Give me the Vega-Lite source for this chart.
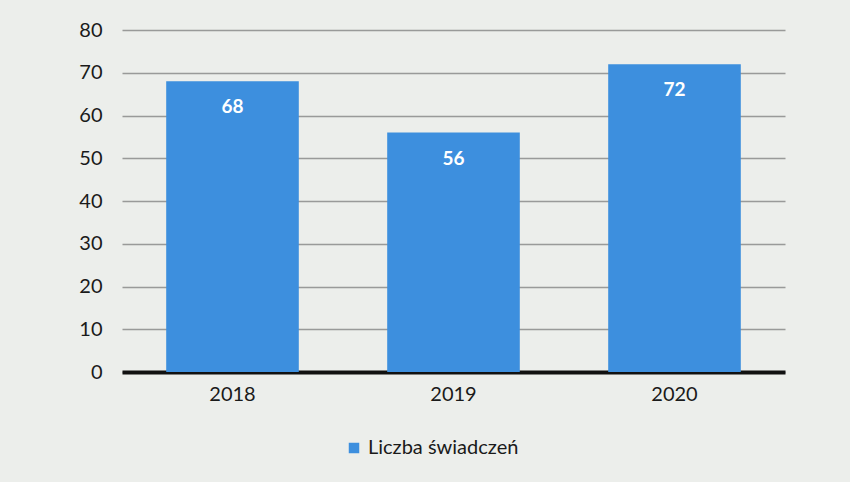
{
  "$schema": "https://vega.github.io/schema/vega-lite/v6.json",
  "autosize": "none",
  "width": 663,
  "height": 342,
  "padding": {"left": 122, "top": 30, "right": 65, "bottom": 110},
  "background": "#eceeeb",
  "config": {
    "font": "Lato",
    "view": {"stroke": null},
    "axis": {"labelFont": "Lato", "labelColor": "#1a1a1a", "labelFontSize": 20}
  },
  "data": {
    "values": [
      {"rok": "2018", "wartosc": 68, "seria": "Liczba świadczeń"},
      {"rok": "2019", "wartosc": 56, "seria": "Liczba świadczeń"},
      {"rok": "2020", "wartosc": 72, "seria": "Liczba świadczeń"}
    ]
  },
  "encoding": {
    "x": {
      "field": "rok", "type": "nominal",
      "scale": {"paddingInner": 0.4, "paddingOuter": 0.2},
      "axis": {"title": null, "labelAngle": 0, "ticks": false, "labelPadding": 12, "domainColor": "#111", "domainWidth": 4}
    },
    "y": {
      "field": "wartosc", "type": "quantitative",
      "scale": {"domain": [0, 80]},
      "axis": {"title": null, "values": [0,10,20,30,40,50,60,70,80], "labelOverlap": false, "ticks": false, "domain": false, "labelPadding": 20, "gridColor": "#555", "gridOpacity": 0.55, "gridWidth": 1.5}
    }
  },
  "layer": [
    {
      "mark": {"type": "bar", "color": "#3d8fde"},
      "encoding": {
        "color": {
          "field": "seria", "type": "nominal",
          "scale": {"range": ["#3d8fde"]},
          "legend": {"title": null, "orient": "none", "legendX": 222, "legendY": 408, "symbolType": "square", "symbolSize": 110, "labelFontSize": 20, "labelColor": "#1a1a1a", "labelFont": "Lato", "symbolStrokeWidth": 0}
        }
      }
    },
    {
      "mark": {"type": "text", "color": "white", "fontSize": 19, "baseline": "middle", "dy": 26, "fontWeight": "bold"},
      "encoding": {"text": {"field": "wartosc", "type": "quantitative"}}
    }
  ]
}
